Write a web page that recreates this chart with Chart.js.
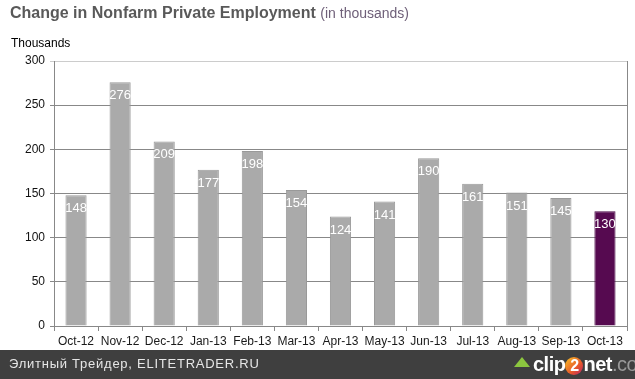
<!DOCTYPE html>
<html>
<head>
<meta charset="utf-8">
<script src="https://cdn.jsdelivr.net/npm/chart.js@4"></script>
<style>
  html, body { margin:0; padding:0; background:#fff; width:635px; height:379px; overflow:hidden; font-family: Arial, "Liberation Sans", sans-serif; }
  #wrap { position:absolute; left:0; top:0; width:635px; height:351px; }
  #title { position:absolute; left:10px; top:4px; white-space:nowrap; }
  #title .main { font-weight:bold; font-size:16px; color:#595959; }
  #title .sub { font-size:14px; color:#6e5f78; }
  #ylab { position:absolute; left:11px; top:36px; font-size:12px; color:#000; }
  #footer { position:absolute; left:0; top:350px; width:635px; height:29px; background:#3f3f3f; }
  #footer .txt { position:absolute; left:9px; top:6px; font-family: Arial, "Liberation Sans", sans-serif; font-size:13px; color:#e6e6e6; letter-spacing:0.75px; }
  #logo { position:absolute; left:514px; top:3px; font-family: Arial, "Liberation Sans", sans-serif; font-size:20px; font-weight:bold; color:#fff; white-space:nowrap; letter-spacing:-0.5px; }
  #logo .arrow { display:inline-block; width:0; height:0; border-left:8px solid transparent; border-right:8px solid transparent; border-bottom:10px solid #8cc63f; vertical-align:middle; margin-right:3px; position:relative; top:-4px; }
  #logo .two { display:inline-block; width:18px; height:18px; border-radius:9px; background:linear-gradient(135deg,#f7c325,#e8582a 60%,#b8206a); color:#fff; text-align:center; line-height:18px; font-size:16px; }
  #logo .com { color:#9a9a9a; font-weight:normal; }
</style>
</head>
<body>
<div id="wrap"><canvas id="c" width="635" height="351"></canvas></div>
<div id="title"><span class="main">Change in Nonfarm Private Employment</span> <span class="sub">(in thousands)</span></div>
<div id="ylab">Thousands</div>
<div id="footer">
  <div class="txt">Элитный Трейдер, ELITETRADER.RU</div>
  <div id="logo"><span class="arrow"></span>clip<span class="two">2</span>net<span class="com">.com</span></div>
</div>
<script>
const categories = ["Oct-12","Nov-12","Dec-12","Jan-13","Feb-13","Mar-13","Apr-13","May-13","Jun-13","Jul-13","Aug-13","Sep-13","Oct-13"];
const employment = [148, 276, 209, 177, 198, 154, 124, 141, 190, 161, 151, 145, 130];
const yTicks = [0, 50, 100, 150, 200, 250, 300];

const barColors = employment.map((v, i) => i === employment.length - 1 ? '#560a50' : '#aaaaaa');
const borderColors = employment.map((v, i) => i === employment.length - 1 ? '#4a0845' : '#999999');

const labelPlugin = {
  id: 'labels',
  afterDatasetsDraw(chart) {
    const ctx = chart.ctx;
    const meta = chart.getDatasetMeta(0);
    ctx.save();
    ctx.font = '13px Arial, "Liberation Sans", sans-serif';
    ctx.fillStyle = '#ffffff';
    ctx.textAlign = 'center';
    ctx.textBaseline = 'top';
    meta.data.forEach((bar, i) => {
      ctx.fillText(String(employment[i]), bar.x, bar.y + 7);
    });
    ctx.restore();
  }
};
const borderPlugin = {
  id: 'rightBorder',
  afterDraw(chart) {
    const a = chart.chartArea, ctx = chart.ctx;
    ctx.save();
    ctx.strokeStyle = '#888888';
    ctx.lineWidth = 1;
    ctx.beginPath();
    ctx.moveTo(Math.round(a.right) + 0.5, a.top);
    ctx.lineTo(Math.round(a.right) + 0.5, a.bottom);
    ctx.stroke();
    ctx.restore();
  }
};

new Chart(document.getElementById('c'), {
  type: 'bar',
  data: {
    labels: categories,
    datasets: [{
      data: employment,
      backgroundColor: barColors,
      borderColor: borderColors,
      borderWidth: 1,
      categoryPercentage: 1,
      barPercentage: 0.48
    }]
  },
  options: {
    responsive: false,
    animation: false,
    devicePixelRatio: 1,
    layout: { padding: { left: 0, right: 8, top: 61, bottom: 0 } },
    plugins: { legend: { display: false }, tooltip: { enabled: false } },
    scales: {
      x: {
        afterFit(s) { s.height = 25; },
        grid: { display: true, drawOnChartArea: false, offset: true, color: '#888888', tickLength: 5 },
        border: { color: '#888888' },
        ticks: { color: '#1a1a1a', font: { size: 12, family: 'Arial, "Liberation Sans", sans-serif' }, padding: 3, maxRotation: 0, autoSkip: false }
      },
      y: {
        min: 0, max: 300,
        afterFit(s) { s.width = 54; },
        afterBuildTicks(s) { s.ticks = yTicks.map(v => ({ value: v })); },
        grid: {
          color: (c) => (c.tick && c.tick.value === 300) ? '#cccccc' : '#888888',
          tickLength: 4
        },
        border: { color: '#888888' },
        ticks: { color: '#111111', font: { size: 12, family: 'Arial, "Liberation Sans", sans-serif' }, padding: 5 }
      }
    }
  },
  plugins: [labelPlugin, borderPlugin]
});
</script>
</body>
</html>
